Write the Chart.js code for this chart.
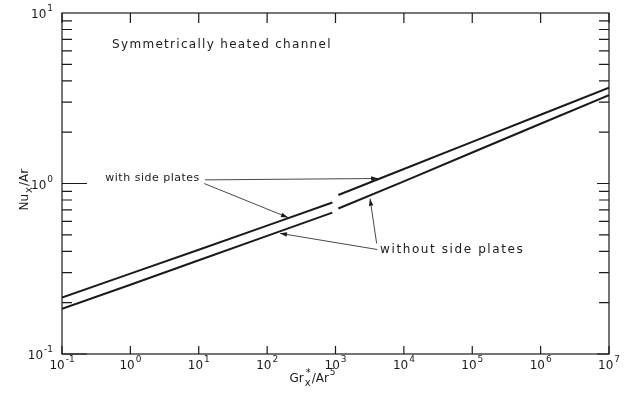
<!DOCTYPE html>
<html>
<head>
<meta charset="utf-8">
<script src="https://cdn.jsdelivr.net/npm/chart.js@4/dist/chart.umd.min.js"></script>
<style>
  html, body { margin: 0; padding: 0; background: #fff; }
</style>
</head>
<body>
<canvas id="nuChart" width="628" height="408"></canvas>
<script>
// Nu_x/Ar vs Gr*_x/Ar^5, symmetrically heated channel (log-log)

const xDecades = [0.1, 1, 10, 100, 1e3, 1e4, 1e5, 1e6, 1e7];
const yDecades = [0.1, 1, 10];
const xTickExp = ['-1', '0', '1', '2', '3', '4', '5', '6', '7'];
const yTickExp = ['-1', '0', '1'];

// with side plates (upper curve), split at Gr*/Ar^5 = 10^3
const withLeftX  = [0.1, 1, 10, 100, 900];
const withLeftY  = [0.214, 0.296, 0.409, 0.566, 0.773];
const withRightX = [1100, 1e4, 1e5, 1e6, 1e7];
const withRightY = [0.856, 1.216, 1.754, 2.53, 3.65];

// without side plates (lower curve)
const withoutLeftX  = [0.1, 1, 10, 100, 900];
const withoutLeftY  = [0.184, 0.255, 0.355, 0.493, 0.675];
const withoutRightX = [1100, 1e4, 1e5, 1e6, 1e7];
const withoutRightY = [0.713, 1.03, 1.52, 2.24, 3.30];

const pts = (xs, ys) => xs.map((x, i) => ({ x, y: ys[i] }));

const INK = '#1a1a1a';
const FONT = '"DejaVu Sans", sans-serif';

// labels and arrows, anchored in data coordinates
const notes = [
  { text: 'Symmetrically heated channel', x: 0.54, y: 6.5, size: 12, sp: 1.3 },
  { text: 'with side plates', x: 0.43, y: 1.08, size: 11, sp: 0.5 },
  { text: 'without side plates', x: 4480, y: 0.407, size: 12, sp: 1.6 },
];
const arrows = [
  { from: [12.3, 1.05], to: [4200, 1.07] },
  { from: [12.0, 1.0], to: [202, 0.632] },
  { from: [4100, 0.41], to: [154, 0.51] },
  { from: [4000, 0.445], to: [3200, 0.815] },
];

// "10" with a raised exponent; align: 'center' or 'right'
function drawPow(ctx, exp, x, y, align) {
  ctx.font = '12px ' + FONT;
  const wb = ctx.measureText('10').width;
  ctx.font = '9px ' + FONT;
  const we = ctx.measureText(exp).width;
  const w = wb + 1 + we;
  const x0 = align === 'right' ? x - w : x - w / 2;
  ctx.font = '12px ' + FONT;
  ctx.fillText('10', x0, y);
  ctx.font = '9px ' + FONT;
  ctx.fillText(exp, x0 + wb + 1, y - 6);
}

const frame = {
  id: 'frame',
  afterDatasetsDraw(chart) {
    const { ctx, chartArea: a, scales: { x, y } } = chart;
    ctx.save();
    ctx.strokeStyle = INK;
    ctx.fillStyle = INK;
    ctx.lineWidth = 1.2;
    ctx.strokeRect(a.left, a.top, a.right - a.left, a.bottom - a.top);
    ctx.beginPath();
    // y minor + major ticks, both sides, pointing in
    for (let d = 0; d < yDecades.length - 1; d++) {
      for (let m = 1; m <= 9; m++) {
        const py = y.getPixelForValue(yDecades[d] * m);
        ctx.moveTo(a.left, py); ctx.lineTo(a.left + (m === 1 ? 25 : 10), py);
        ctx.moveTo(a.right, py); ctx.lineTo(a.right - (m === 1 ? 12 : 10), py);
      }
    }
    // x decade ticks top and bottom
    xDecades.forEach(v => {
      const px = x.getPixelForValue(v);
      ctx.moveTo(px, a.top); ctx.lineTo(px, a.top + 10);
      ctx.moveTo(px, a.bottom); ctx.lineTo(px, a.bottom - 8);
    });
    ctx.stroke();

    // tick labels
    ctx.textBaseline = 'middle';
    xDecades.forEach((v, i) => drawPow(ctx, xTickExp[i], x.getPixelForValue(v), a.bottom + 12, 'center'));
    yDecades.forEach((v, i) => drawPow(ctx, yTickExp[i], a.left - 9, y.getPixelForValue(v) + 2, 'right'));

    // axis titles
    const cx = (a.left + a.right) / 2 - 14;
    const ty = a.bottom + 25;
    ctx.textAlign = 'left';
    ctx.font = '12px ' + FONT;
    let px = cx - 32;
    ctx.fillText('Gr', px, ty); px += ctx.measureText('Gr').width + 1;
    ctx.font = '10px ' + FONT;
    ctx.fillText('x', px, ty + 4);
    ctx.fillText('*', px + 1, ty - 6);
    px += ctx.measureText('x').width + 1;
    ctx.font = '12px ' + FONT;
    ctx.fillText('/Ar', px, ty); px += ctx.measureText('/Ar').width + 1;
    ctx.font = '9px ' + FONT;
    ctx.fillText('5', px, ty - 6);

    ctx.save();
    ctx.translate(25, (a.top + a.bottom) / 2 - 3);
    ctx.rotate(-Math.PI / 2);
    ctx.font = '12px ' + FONT;
    let qx = -30;
    ctx.fillText('Nu', qx, 0); qx += ctx.measureText('Nu').width + 1;
    ctx.font = '10px ' + FONT;
    ctx.fillText('x', qx, 4); qx += ctx.measureText('x').width + 1;
    ctx.font = '12px ' + FONT;
    ctx.fillText('/Ar', qx, 0);
    ctx.restore();

    // annotations
    notes.forEach(n => {
      ctx.font = n.size + 'px ' + FONT;
      ctx.letterSpacing = n.sp + 'px';
      ctx.fillText(n.text, x.getPixelForValue(n.x), y.getPixelForValue(n.y));
    });
    ctx.letterSpacing = '0px';

    ctx.lineWidth = 0.8;
    arrows.forEach(ar => {
      const x0 = x.getPixelForValue(ar.from[0]), y0 = y.getPixelForValue(ar.from[1]);
      const x1 = x.getPixelForValue(ar.to[0]), y1 = y.getPixelForValue(ar.to[1]);
      ctx.beginPath(); ctx.moveTo(x0, y0); ctx.lineTo(x1, y1); ctx.stroke();
      const ang = Math.atan2(y1 - y0, x1 - x0);
      ctx.beginPath();
      ctx.moveTo(x1, y1);
      ctx.lineTo(x1 - 7 * Math.cos(ang) + 2.2 * Math.sin(ang), y1 - 7 * Math.sin(ang) - 2.2 * Math.cos(ang));
      ctx.lineTo(x1 - 7 * Math.cos(ang) - 2.2 * Math.sin(ang), y1 - 7 * Math.sin(ang) + 2.2 * Math.cos(ang));
      ctx.closePath(); ctx.fill();
    });
    ctx.restore();
  }
};

const lineStyle = { borderColor: INK, borderWidth: 2, pointRadius: 0, tension: 0, fill: false };

new Chart(document.getElementById('nuChart'), {
  type: 'line',
  data: {
    datasets: [
      { label: 'with side plates', data: pts(withLeftX, withLeftY), ...lineStyle },
      { label: 'with side plates ', data: pts(withRightX, withRightY), ...lineStyle },
      { label: 'without side plates', data: pts(withoutLeftX, withoutLeftY), ...lineStyle },
      { label: 'without side plates ', data: pts(withoutRightX, withoutRightY), ...lineStyle },
    ],
  },
  options: {
    responsive: false,
    animation: false,
    devicePixelRatio: 1,
    layout: { padding: { top: 13, right: 19, left: 0, bottom: 0 } },
    plugins: { legend: { display: false }, tooltip: { enabled: false } },
    scales: {
      x: {
        type: 'logarithmic', min: 0.1, max: 1e7,
        grid: { display: false, drawTicks: false },
        border: { display: false },
        ticks: { display: false },
        afterFit: s => { s.height = 54; },
      },
      y: {
        type: 'logarithmic', min: 0.1, max: 10,
        grid: { display: false, drawTicks: false },
        border: { display: false },
        ticks: { display: false },
        afterFit: s => { s.width = 62; },
      },
    },
  },
  plugins: [frame],
});
</script>
</body>
</html>
